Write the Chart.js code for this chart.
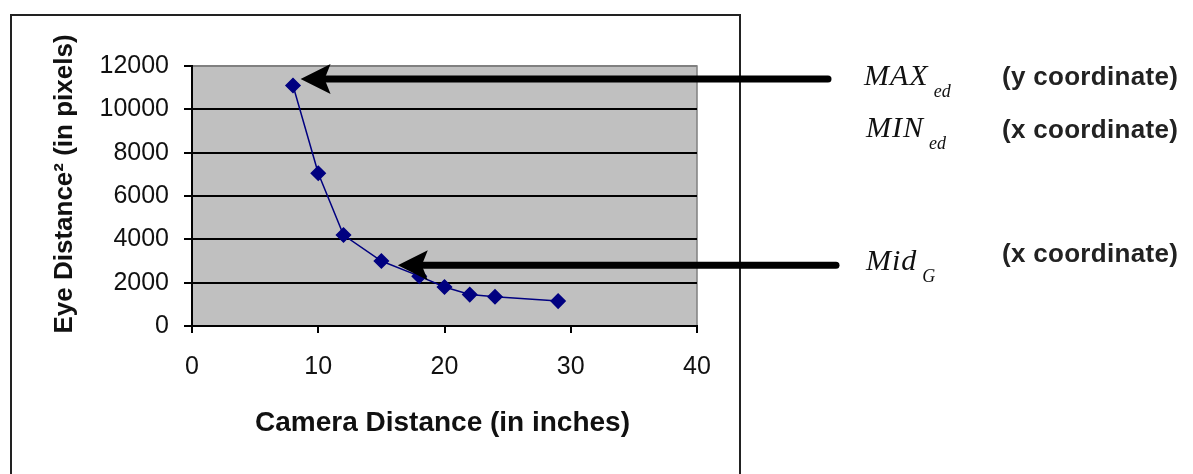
<!DOCTYPE html>
<html>
<head>
<meta charset="utf-8">
<title>Eye distance vs camera distance</title>
<script src="https://cdn.jsdelivr.net/npm/chart.js@4"></script>
<style>
  html, body { margin: 0; padding: 0; background: #fff; }
  #wrap { position: relative; width: 1193px; height: 474px; overflow: hidden; }
  #frame {
    position: absolute; left: 10px; top: 14px; width: 727px; height: 480px;
    border: 2px solid #222; border-bottom: none;
  }
  #chartBox { position: absolute; left: 0; top: 0; width: 1193px; height: 474px; }
  .sym {
    position: absolute; font-family: "Liberation Serif", "DejaVu Serif", serif;
    font-style: italic; font-size: 30px; letter-spacing: 1px; color: #111; white-space: nowrap;
  }
  .sym sub { font-size: 18px; letter-spacing: 0; position: relative; top: 5px; margin-left: 5px; }
  .note {
    position: absolute; font-family: "Liberation Sans", Arial, sans-serif;
    font-weight: bold; font-size: 26px; letter-spacing: 0.3px; color: #222; white-space: nowrap;
  }
</style>
</head>
<body>
<div id="wrap">
  <div id="frame"></div>
  <div id="chartBox"><canvas id="eyeChart"></canvas></div>

  <div class="sym" style="left:864px; top:58px;">MAX<sub>ed</sub></div>
  <div class="note" style="left:1002px; top:61px;">(y coordinate)</div>

  <div class="sym" style="left:866px; top:110px;">MIN<sub>ed</sub></div>
  <div class="note" style="left:1002px; top:114px;">(x coordinate)</div>

  <div class="sym" style="left:866px; top:243px;">Mid<sub>G</sub></div>
  <div class="note" style="left:1002px; top:238px;">(x coordinate)</div>
</div>

<script>
// Measurements
const cameraDistance = [8, 10, 12, 15, 18, 20, 22, 24, 29];
const eyeDistanceSq = [11100, 7050, 4200, 3000, 2300, 1800, 1450, 1350, 1150];

// Axis ticks
const xTicks = [0, 10, 20, 30, 40];
const yTicks = [0, 2000, 4000, 6000, 8000, 10000, 12000];

// Arrow tips (in data units) and where their tails end on the page
const arrowTips = [
  { x: 8.6, y: 11400 },
  { x: 16.3, y: 2800 },
];
const arrowTailX = [828, 836];

const xTitle = "Camera Distance (in inches)";
const yTitle = "Eye Distance\u00B2 (in pixels)";

const points = cameraDistance.map((x, i) => ({ x: x, y: eyeDistanceSq[i] }));

// Grey plot area with a thin darker border
const plotBackground = {
  id: "plotBackground",
  beforeDraw(chart) {
    const { ctx, chartArea: a } = chart;
    ctx.save();
    ctx.fillStyle = "#c0c0c0";
    ctx.fillRect(a.left, a.top, a.right - a.left, a.bottom - a.top);
    ctx.strokeStyle = "#808080";
    ctx.lineWidth = 1.5;
    ctx.strokeRect(a.left, a.top, a.right - a.left, a.bottom - a.top);
    ctx.restore();
  },
};

// Axis titles placed by hand so they sit where the layout wants them
const axisTitles = {
  id: "axisTitles",
  afterDraw(chart) {
    const { ctx, chartArea: a } = chart;
    ctx.save();
    ctx.fillStyle = "#111";
    ctx.textAlign = "center";
    ctx.textBaseline = "middle";
    ctx.font = "bold 28px 'Liberation Sans', Arial, sans-serif";
    ctx.fillText(xTitle, (a.left + a.right) / 2 - 2, 423);
    ctx.font = "bold 26px 'Liberation Sans', Arial, sans-serif";
    ctx.translate(65, 184);
    ctx.rotate(-Math.PI / 2);
    ctx.fillText(yTitle, 0, 0);
    ctx.restore();
  },
};

// Thick black arrows pointing at the curve
const arrows = {
  id: "arrows",
  afterDatasetsDraw(chart) {
    const { ctx, scales } = chart;
    ctx.save();
    ctx.fillStyle = "#000";
    ctx.strokeStyle = "#000";
    arrowTips.forEach((tip, i) => {
      const tx = scales.x.getPixelForValue(tip.x);
      const ty = scales.y.getPixelForValue(tip.y);
      const headLen = 30;
      const headHalf = 15;
      // shaft
      ctx.lineWidth = 7;
      ctx.lineCap = "round";
      ctx.beginPath();
      ctx.moveTo(tx + headLen - 4, ty);
      ctx.lineTo(arrowTailX[i], ty);
      ctx.stroke();
      // head
      ctx.beginPath();
      ctx.moveTo(tx, ty);
      ctx.lineTo(tx + headLen, ty - headHalf);
      ctx.lineTo(tx + headLen - 6, ty);
      ctx.lineTo(tx + headLen, ty + headHalf);
      ctx.closePath();
      ctx.fill();
    });
    ctx.restore();
  },
};

const ctx = document.getElementById("eyeChart").getContext("2d");

const eyeChart = new Chart(ctx, {
  type: "scatter",
  data: {
    datasets: [
      {
        label: "Eye distance squared",
        data: points,
        showLine: true,
        borderColor: "#000080",
        borderWidth: 1.5,
        backgroundColor: "#000080",
        pointStyle: "rectRot",
        pointRadius: 7,
        pointHoverRadius: 7,
        pointBackgroundColor: "#000080",
        pointBorderColor: "#000080",
        tension: 0,
      },
    ],
  },
  options: {
    responsive: true,
    maintainAspectRatio: false,
    animation: false,
    layout: {
      padding: { left: 0, top: 66, right: 496, bottom: 0 },
    },
    plugins: {
      legend: { display: false },
      tooltip: { enabled: false },
    },
    scales: {
      x: {
        type: "linear",
        min: xTicks[0],
        max: xTicks[xTicks.length - 1],
        afterBuildTicks(scale) {
          scale.ticks = xTicks.map((v) => ({ value: v }));
        },
        afterFit(scale) {
          scale.height = 148;
        },
        border: { display: true, color: "#000", width: 2 },
        grid: {
          drawOnChartArea: false,
          drawTicks: true,
          tickLength: 7,
          tickColor: "#000",
          lineWidth: 2,
        },
        ticks: {
          color: "#111",
          padding: 19,
          font: { family: "'Liberation Sans', Arial, sans-serif", size: 25 },
        },
      },
      y: {
        type: "linear",
        min: yTicks[0],
        max: yTicks[yTicks.length - 1],
        afterBuildTicks(scale) {
          scale.ticks = yTicks.map((v) => ({ value: v }));
        },
        afterFit(scale) {
          scale.width = 192;
        },
        border: { display: true, color: "#000", width: 2 },
        grid: {
          color: (c) => (c.tick && c.tick.value === yTicks[yTicks.length - 1] ? "#808080" : "#000"),
          lineWidth: 2,
          drawTicks: true,
          tickLength: 8,
          tickColor: "#000",
        },
        ticks: {
          color: "#111",
          padding: 15,
          font: { family: "'Liberation Sans', Arial, sans-serif", size: 25 },
          callback: (value) => String(value),
        },
      },
    },
  },
  plugins: [plotBackground, arrows, axisTitles],
});
</script>
</body>
</html>
